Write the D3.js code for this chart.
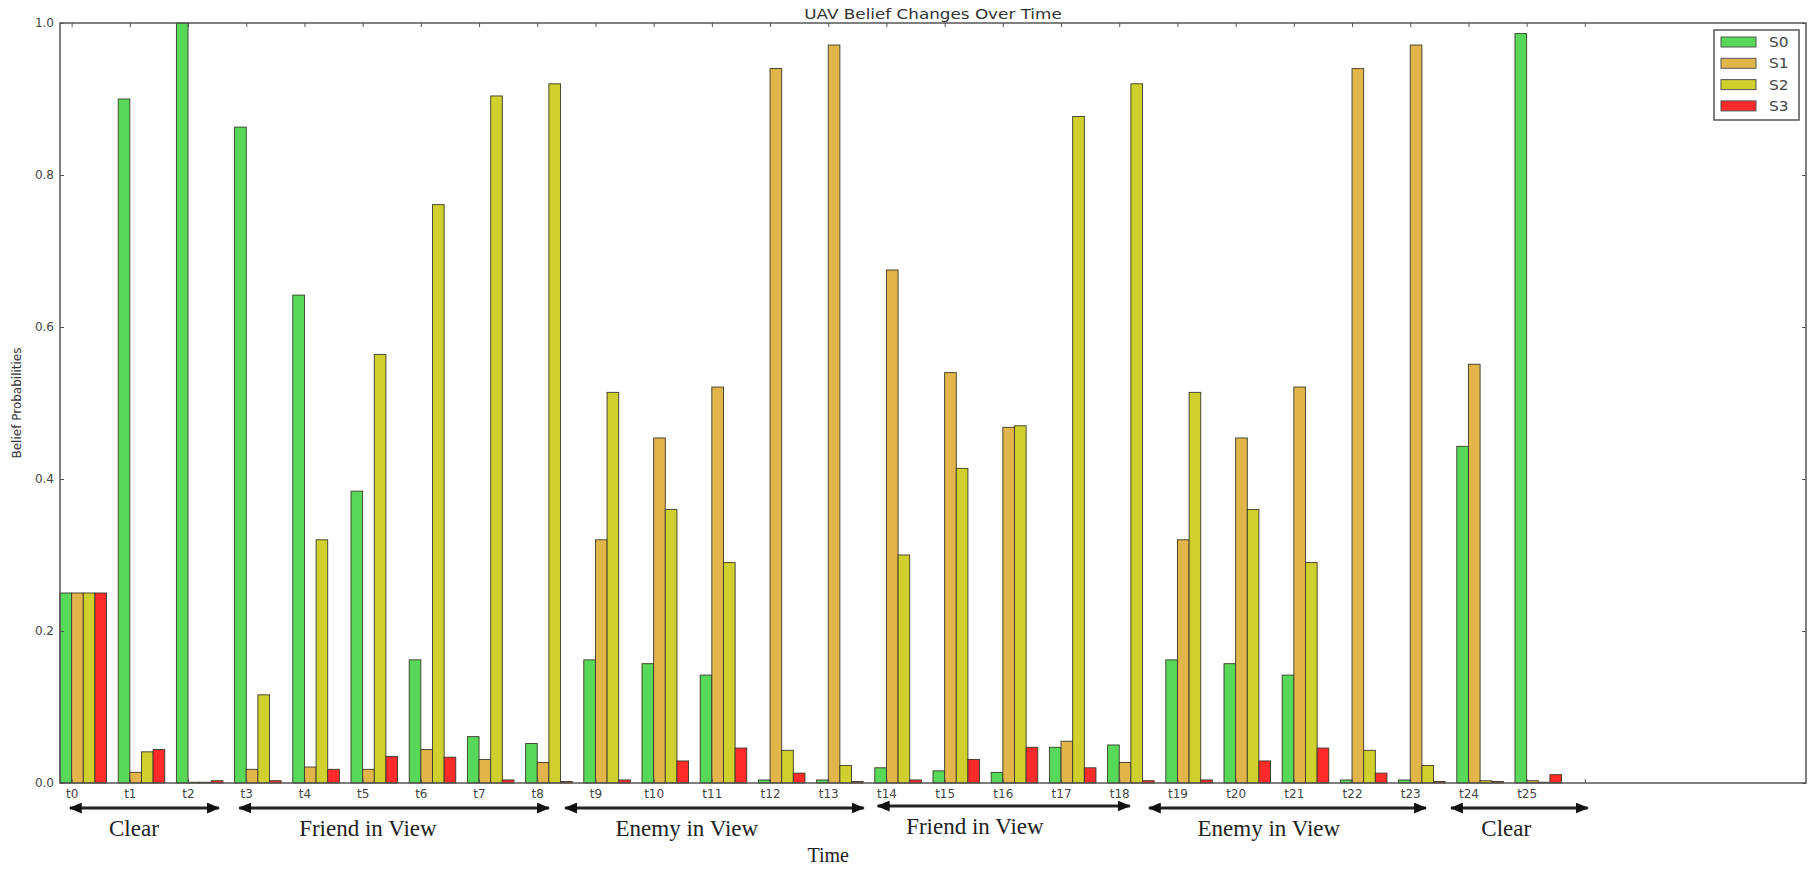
<html>
  <head>
    <meta charset="utf-8">
    <title>UAV Belief Changes Over Time</title>
    <script src="https://d3js.org/d3.v7.min.js"></script>
    <style>
      body { margin: 0; background: #fff; }
      text { font-family: "DejaVu Sans", sans-serif; }
      .phase { font-family: "Liberation Serif", "Times New Roman", serif; }
    </style>
  </head>
  <body>
    <svg id="chart" width="1812" height="869"></svg>

    <script>
      // ---- data ----
      const times = ['t0','t1','t2','t3','t4','t5','t6','t7','t8','t9','t10','t11','t12',
                     't13','t14','t15','t16','t17','t18','t19','t20','t21','t22','t23','t24','t25'];
      const states = ['S0', 'S1', 'S2', 'S3'];
      const s0 = [0.25, 0.900, 1.000, 0.863, 0.642, 0.384, 0.162, 0.061, 0.052, 0.162, 0.157, 0.142, 0.004,
                  0.004, 0.020, 0.016, 0.014, 0.047, 0.050, 0.162, 0.157, 0.142, 0.004, 0.004, 0.443, 0.986];
      const s1 = [0.25, 0.014, 0.001, 0.018, 0.021, 0.018, 0.044, 0.031, 0.027, 0.320, 0.454, 0.521, 0.940,
                  0.971, 0.675, 0.540, 0.468, 0.055, 0.027, 0.320, 0.454, 0.521, 0.940, 0.971, 0.551, 0.003];
      const s2 = [0.25, 0.041, 0.001, 0.116, 0.320, 0.564, 0.761, 0.904, 0.920, 0.514, 0.360, 0.290, 0.043,
                  0.023, 0.300, 0.414, 0.470, 0.877, 0.920, 0.514, 0.360, 0.290, 0.043, 0.023, 0.003, 0.001];
      const s3 = [0.25, 0.044, 0.003, 0.003, 0.018, 0.035, 0.034, 0.004, 0.002, 0.004, 0.029, 0.046, 0.013,
                  0.002, 0.004, 0.031, 0.047, 0.020, 0.003, 0.004, 0.029, 0.046, 0.013, 0.002, 0.002, 0.011];
      const series = [s0, s1, s2, s3];
      const colors = ['#58d858', '#e2b54b', '#cfcf2d', '#ff2b2b'];
      const yTicks = [0.0, 0.2, 0.4, 0.6, 0.8, 1.0];

      // phase annotations under the axis (in x data units)
      const phases = ['Clear', 'Friend in View', 'Enemy in View', 'Friend in View', 'Enemy in View', 'Clear'];
      const phaseStart = [0.17, 3.08, 8.68, 14.05, 18.71, 23.90];
      const phaseEnd = [2.73, 8.40, 13.81, 18.38, 23.47, 26.25];
      const phaseMid = [1.27, 5.29, 10.77, 15.72, 20.77, 24.85];

      let svg = d3.select("svg#chart");
      const margin = { "top": 23, "right": 6, "bottom": 86, "left": 60 };
      const width = +svg.attr("width") - margin.left - margin.right;
      const height = +svg.attr("height") - margin.top - margin.bottom;
      const barW = 0.2;

      let plot = svg.append("g")
                    .attr("transform", "translate(" + margin.left + "," + margin.top + ")");

      const x = d3.scaleLinear().domain([0, 30]).range([0, width]);
      const y = d3.scaleLinear().domain([0, 1]).range([height, 0]);

      // bars, one group per state
      series.forEach(function (vals, k) {
        plot.append("g")
            .selectAll("rect")
            .data(vals)
            .join("rect")
            .attr("x", (d, i) => x(i + k * barW))
            .attr("width", x(barW) - x(0))
            .attr("y", d => y(d))
            .attr("height", d => y(0) - y(d))
            .attr("fill", colors[k])
            .attr("stroke", "#3a3a2a")
            .attr("stroke-width", 0.9);
      });

      // axes, ticks pointing inwards like classic matplotlib
      const tickPos = d3.range(0, times.length + 1).map(i => i + barW);

      plot.append("g")
          .call(d3.axisLeft(y).tickValues(yTicks).tickFormat(d3.format(".1f")).tickSize(-4).tickPadding(6))
          .call(g => g.select(".domain").remove())
          .call(g => g.selectAll("text").attr("font-size", 12).attr("fill", "#444").attr("font-family", "DejaVu Sans"));

      plot.append("g")
          .attr("transform", "translate(" + width + ",0)")
          .call(d3.axisRight(y).tickValues(yTicks).tickFormat("").tickSize(-4))
          .call(g => g.select(".domain").remove());

      plot.append("g")
          .call(d3.axisTop(x).tickValues(tickPos).tickFormat("").tickSize(-4))
          .call(g => g.select(".domain").remove());

      plot.append("g")
          .attr("transform", "translate(0," + height + ")")
          .call(d3.axisBottom(x).tickValues(tickPos)
                  .tickFormat((d, i) => times[i] || "").tickSize(-4).tickPadding(6))
          .call(g => g.select(".domain").remove())
          .call(g => g.selectAll("text").attr("font-size", 12).attr("fill", "#444").attr("font-family", "DejaVu Sans"));

      plot.selectAll(".tick line").attr("stroke", "#555");

      // frame
      plot.append("rect")
          .attr("width", width)
          .attr("height", height)
          .attr("fill", "none")
          .attr("stroke", "#555")
          .attr("stroke-width", 1.5);

      // title and y label
      svg.append("text")
         .attr("transform", "translate(" + (margin.left + width / 2) + ",19) scale(1.2,1)")
         .attr("text-anchor", "middle")
         .attr("font-size", 14)
         .attr("fill", "#333")
         .text("UAV Belief Changes Over Time");

      svg.append("text")
         .attr("transform", "translate(21," + (margin.top + height / 2) + ") rotate(-90)")
         .attr("text-anchor", "middle")
         .attr("font-size", 12)
         .attr("fill", "#333")
         .text("Belief Probabilities");

      // legend
      let legend = svg.append("g")
                      .attr("transform", "translate(" + (margin.left + width - 92) + "," + (margin.top + 7) + ")");
      legend.append("rect")
            .attr("width", 85).attr("height", 90)
            .attr("fill", "#fff").attr("stroke", "#555").attr("stroke-width", 1.5);
      states.forEach(function (s, k) {
        legend.append("rect")
              .attr("x", 7).attr("y", 7 + k * 21.3)
              .attr("width", 35).attr("height", 10)
              .attr("fill", colors[k]).attr("stroke", "#555").attr("stroke-width", 1);
        legend.append("text")
              .attr("transform", "translate(55," + (17 + k * 21.3) + ") scale(1.1,1)")
              .attr("font-size", 14)
              .attr("fill", "#444")
              .text(s);
      });

      // phase arrows below the time axis
      let defs = svg.append("defs");
      defs.append("marker")
          .attr("id", "head")
          .attr("viewBox", "0 0 12 10")
          .attr("refX", 11).attr("refY", 5)
          .attr("markerUnits", "userSpaceOnUse")
          .attr("markerWidth", 13).attr("markerHeight", 11)
          .attr("orient", "auto-start-reverse")
          .append("path")
          .attr("d", "M0,0 L12,5 L0,10 Z")
          .attr("fill", "#111");

      let notes = svg.append("g")
                     .attr("transform", "translate(" + margin.left + ",0)");
      phases.forEach(function (p, k) {
        let dy = (k === 3) ? -2 : 0;
        notes.append("line")
             .attr("x1", x(phaseStart[k])).attr("x2", x(phaseEnd[k]))
             .attr("y1", 808 + dy).attr("y2", 808 + dy)
             .attr("stroke", "#222").attr("stroke-width", 3)
             .attr("marker-start", "url(#head)")
             .attr("marker-end", "url(#head)");
        notes.append("text")
             .attr("class", "phase")
             .attr("x", x(phaseMid[k]))
             .attr("y", 836 + dy)
             .attr("text-anchor", "middle")
             .attr("font-size", 23)
             .attr("fill", "#222")
             .text(p);
      });

      notes.append("text")
           .attr("class", "phase")
           .attr("x", x(13.2))
           .attr("y", 862)
           .attr("text-anchor", "middle")
           .attr("font-size", 20)
           .attr("fill", "#222")
           .text("Time");
    </script>
  </body>
</html>
